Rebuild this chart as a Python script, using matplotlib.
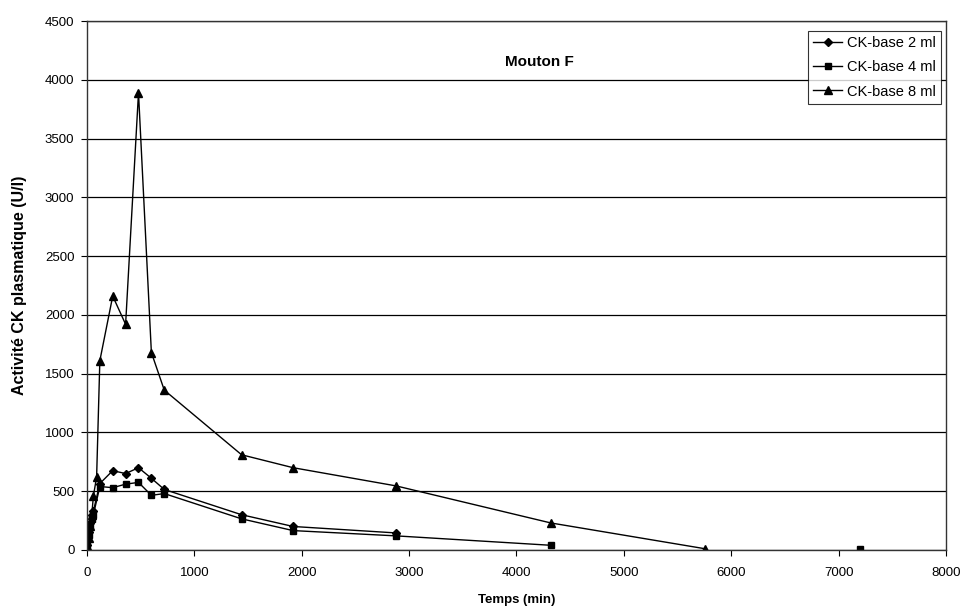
import numpy as np
import matplotlib
matplotlib.use("Agg")
import matplotlib.pyplot as plt

plt.rcParams["font.family"] = ["Liberation Sans", "DejaVu Sans"]

# temps (min) et activité CK (U/l)
temps_2ml = [0, 15, 30, 45, 60, 120, 240, 360, 480, 600, 720, 1440, 1920, 2880]
ck_2ml = [40, 150, 230, 300, 330, 565, 675, 650, 700, 610, 515, 300, 200, 145]

temps_4ml = [0, 15, 30, 45, 60, 120, 240, 360, 480, 600, 720, 1440, 1920, 2880, 4320, 5760, 7200]
ck_4ml = [40, 130, 200, 260, 300, 540, 530, 560, 575, 465, 480, 265, 165, 120, 40, np.nan, 5]

temps_8ml = [0, 15, 30, 45, 60, 90, 120, 240, 360, 480, 600, 720, 1440, 1920, 2880, 4320, 5760]
ck_8ml = [30, 100, 200, 300, 460, 620, 1610, 2160, 1920, 3890, 1680, 1360, 810, 700, 545, 230, 10]

fig = plt.figure(figsize=(9.64, 6.09), dpi=100)
ax = fig.add_axes([0.0902, 0.0969, 0.8911, 0.8686])

ax.plot(temps_2ml, ck_2ml, color="black", lw=1, marker="D", ms=4.5, label="CK-base 2 ml")
ax.plot(temps_4ml, ck_4ml, color="black", lw=1, marker="s", ms=5, label="CK-base 4 ml")
ax.plot(temps_8ml, ck_8ml, color="black", lw=1, marker="^", ms=6, label="CK-base 8 ml")

ax.set_xlim(0, 8000)
ax.set_ylim(0, 4500)
ax.set_xticks(range(0, 8001, 1000))
ax.set_yticks(range(0, 4501, 500))
ax.yaxis.grid(True, color="black", lw=0.9)
ax.set_axisbelow(True)
ax.tick_params(direction="out", length=4, labelsize=9.5, colors="black")
ax.tick_params(axis="x", pad=8)
ax.tick_params(axis="y", pad=5)

for s in ax.spines.values():
    s.set_color("#333333")
    s.set_linewidth(1)

ax.set_xlabel("Temps (min)", fontsize=9.5, fontweight="bold", labelpad=11)
ax.set_ylabel("Activité CK plasmatique (U/l)", fontsize=11.5, fontweight="bold", labelpad=13)

ax.text(0.527, 0.922, "Mouton F", transform=ax.transAxes, ha="center", va="center",
        fontsize=11, fontweight="bold")

leg = ax.legend(loc="upper right", bbox_to_anchor=(0.994, 0.981), borderaxespad=0,
                fontsize=10.5, frameon=True, fancybox=False, handlelength=2.0,
                handletextpad=0.3, labelspacing=0.7, borderpad=0.35)
leg.get_frame().set_edgecolor("black")
leg.get_frame().set_linewidth(0.8)

fig.savefig("out.png", dpi=100)
